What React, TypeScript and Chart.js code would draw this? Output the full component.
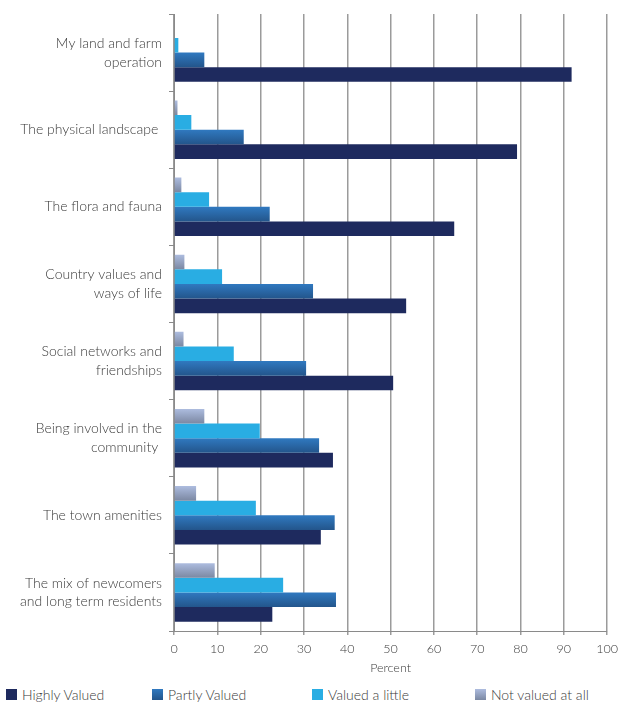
import React, { useEffect, useRef } from "react";
import { Chart, registerables } from "chart.js";

Chart.register(...registerables);

const categories: (string | string[])[] = [
  ["My land and farm", "operation"],
  "The physical landscape ",
  "The flora and fauna",
  ["Country values and", "ways of life"],
  ["Social networks and", "friendships"],
  ["Being involved in the", "community "],
  "The town amenities",
  ["The mix of newcomers", "and long term residents"],
];

const highlyValued = [91.8, 79.2, 64.7, 53.6, 50.6, 36.7, 33.9, 22.7];
const partlyValued = [7.0, 16.1, 22.1, 32.1, 30.5, 33.5, 37.1, 37.4];
const valuedALittle = [1.0, 4.0, 8.1, 11.1, 13.8, 19.8, 18.9, 25.2];
const notValuedAtAll = [0, 0.8, 1.7, 2.4, 2.2, 7.0, 5.1, 9.4];

const xTicks = [0, 10, 20, 30, 40, 50, 60, 70, 80, 90, 100];

const seriesNames = ["Highly Valued", "Partly Valued", "Valued a little", "Not valued at all"];

// styles
const COLORS = {
  highly: ["#1e2a5e", "#1e2a5e"],
  partly: ["#3079c0", "#23558b"],
  little: ["#29ade3", "#29ade3"],
  not: ["#adbcdf", "#7b88a2"],
};
const legendStyles = [COLORS.highly, COLORS.partly, COLORS.little, COLORS.not];
const legendLeft = [6, 152, 312, 475];
const FONT = "Lato, 'Open Sans', sans-serif";
const TEXT = "#3a3a3a";

const gradientPlugin = {
  id: "barGradient",
  afterDatasetsUpdate(chart: any) {
    const ctx = chart.ctx;
    chart.data.datasets.forEach((ds: any, di: number) => {
      const stops = ds.gradStops as string[];
      if (!stops) return;
      const meta = chart.getDatasetMeta(di);
      meta.data.forEach((el: any) => {
        const p = el.getProps(["y", "height"], true);
        const top = p.y - p.height / 2;
        const bot = p.y + p.height / 2;
        const g = ctx.createLinearGradient(0, top, 0, bot);
        g.addColorStop(0, stops[0]);
        g.addColorStop(1, stops[1]);
        el.options = { ...el.options, backgroundColor: g };
      });
    });
  },
};

export default function App() {
  const canvasRef = useRef<HTMLCanvasElement | null>(null);

  useEffect(() => {
    if (!canvasRef.current) return;
    const chart = new Chart(canvasRef.current, {
      type: "bar",
      data: {
        labels: categories,
        datasets: [
          { label: seriesNames[3], data: notValuedAtAll, backgroundColor: COLORS.not[0], gradStops: COLORS.not } as any,
          { label: seriesNames[2], data: valuedALittle, backgroundColor: COLORS.little[0], gradStops: COLORS.little } as any,
          { label: seriesNames[1], data: partlyValued, backgroundColor: COLORS.partly[0], gradStops: COLORS.partly } as any,
          { label: seriesNames[0], data: highlyValued, backgroundColor: COLORS.highly[0], gradStops: COLORS.highly } as any,
        ],
      },
      plugins: [gradientPlugin],
      options: {
        indexAxis: "y",
        animation: false,
        responsive: true,
        maintainAspectRatio: false,
        datasets: {
          bar: { categoryPercentage: 0.76, barPercentage: 1.0, borderWidth: 0 },
        },
        layout: { padding: { top: 14, right: 12, left: 0, bottom: 0 } },
        plugins: {
          legend: { display: false },
          tooltip: { enabled: false },
        },
        scales: {
          x: {
            min: 0,
            max: 100,
            afterBuildTicks: (scale: any) => {
              scale.ticks = xTicks.map((v) => ({ value: v }));
            },
            afterFit: (scale: any) => {
              scale.height = 44;
            },
            ticks: {
              color: TEXT,
              font: { family: FONT, size: 12.5, weight: "300" },
              padding: 6,
              maxRotation: 0,
            },
            grid: {
              color: "#9b9b9b",
              lineWidth: 1.5,
              drawTicks: true,
              tickLength: 4,
            },
            border: { display: true, color: "#8a8a8a", width: 1 },
            title: {
              display: true,
              text: "Percent",
              color: TEXT,
              font: { family: FONT, size: 12.5, weight: "300" },
              padding: { top: 0, bottom: 0 },
            },
          },
          y: {
            afterFit: (scale: any) => {
              scale.width = 174;
              scale.paddingTop = 0;
              scale.paddingBottom = 0;
            },
            ticks: {
              color: TEXT,
              font: { family: FONT, size: 14, weight: "300", lineHeight: 1.35 },
              padding: 7,
              crossAlign: "near",
            },
            grid: {
              offset: true,
              drawOnChartArea: false,
              drawTicks: true,
              tickLength: 5,
              color: "#8a8a8a",
              lineWidth: 1,
            },
            border: { display: true, color: "#8a8a8a", width: 1 },
          },
        },
      } as any,
    });
    return () => chart.destroy();
  }, []);

  return (
    <div style={{ position: "absolute", left: 0, top: 0, width: 624, height: 702, background: "#fff", fontFamily: FONT }}>
      <div style={{ position: "absolute", left: 0, top: 0, width: 624, height: 675 }}>
        <canvas ref={canvasRef} />
      </div>
      {seriesNames.map((name, i) => (
        <div
          key={name}
          style={{
            position: "absolute",
            left: legendLeft[i],
            top: 684,
            height: 20,
            display: "flex",
            alignItems: "center",
            whiteSpace: "nowrap",
            fontSize: 14,
            fontWeight: 300,
            color: TEXT,
          }}
        >
          <span
            style={{
              display: "inline-block",
              width: 11,
              height: 11,
              marginRight: 5,
              background: `linear-gradient(${legendStyles[i][0]}, ${legendStyles[i][1]})`,
            }}
          />
          {name}
        </div>
      ))}
    </div>
  );
}
